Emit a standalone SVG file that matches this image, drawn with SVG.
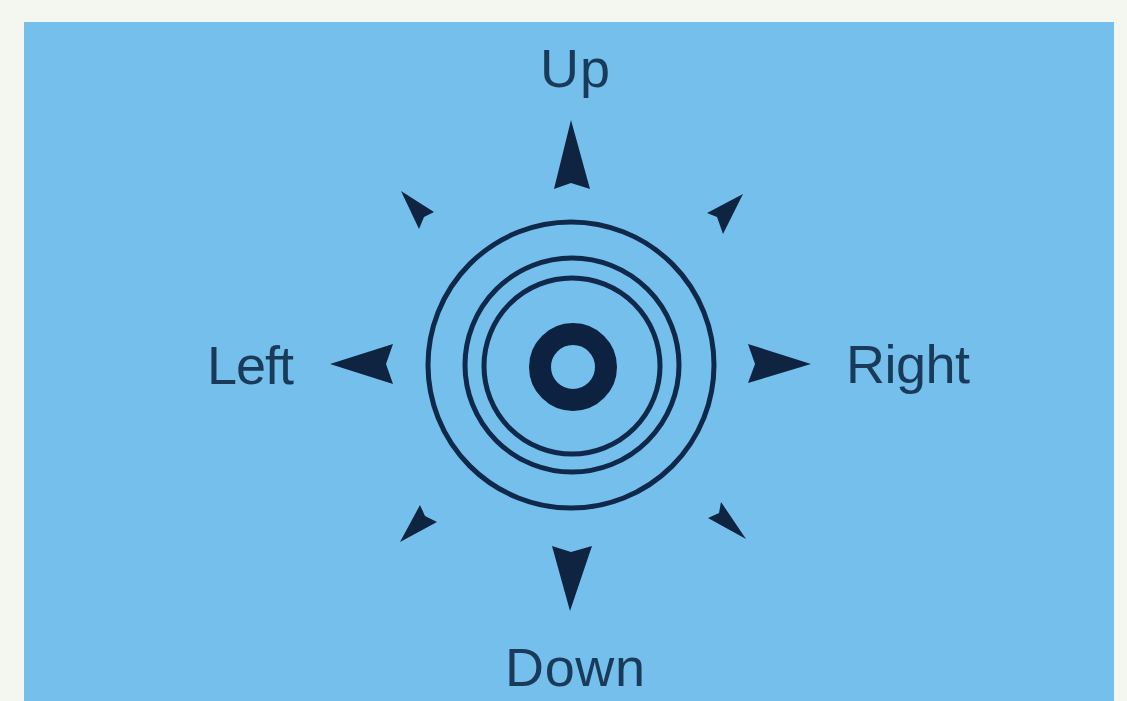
<svg xmlns="http://www.w3.org/2000/svg" width="1127" height="701" viewBox="0 0 1127 701">
<style>
.lbl{font-family:"Liberation Sans","DejaVu Sans",sans-serif;font-size:54px;fill:#1a3a5a}
.ring{fill:none;stroke:#10294a;stroke-width:5}
.arr{fill:#0f2440}
</style>
<rect x="0" y="0" width="1127" height="701" fill="#f4f7f0"/>
<rect x="24" y="22" width="1090" height="679" fill="#74bfeb"/>
<g id="target">
<circle class="ring" cx="571" cy="365" r="143"/>
<circle class="ring" cx="572" cy="365" r="107"/>
<circle class="ring" cx="572" cy="366" r="88"/>
<circle cx="573" cy="367" r="33" fill="none" stroke="#0d2240" stroke-width="22"/>
</g>
<g id="arrows">
<polygon id="up" class="arr" points="571,120 590,189 571,183 554,189"/>
<polygon id="down" class="arr" points="570,611 552,546 571,552 592,546"/>
<polygon id="left" class="arr" points="330,364 393,344 386,364 393,384"/>
<polygon id="right" class="arr" points="811,364 748,344 755,364 748,383"/>
<polygon id="ul" class="arr" points="401,191 434,212 424,217 419,229"/>
<polygon id="ur" class="arr" points="743,194 707,213 717,217 723,234"/>
<polygon id="ll" class="arr" points="400,542 420,505 425,516 437,522"/>
<polygon id="lr" class="arr" points="746,539 721,502 719,513 708,518"/>
</g>
<g id="labels">
<text class="lbl" x="575" y="87" text-anchor="middle" textLength="70">Up</text>
<text class="lbl" x="207" y="384" textLength="87">Left</text>
<text class="lbl" x="846" y="383" textLength="124">Right</text>
<text class="lbl" x="505" y="686" textLength="140">Down</text>
</g>
</svg>
